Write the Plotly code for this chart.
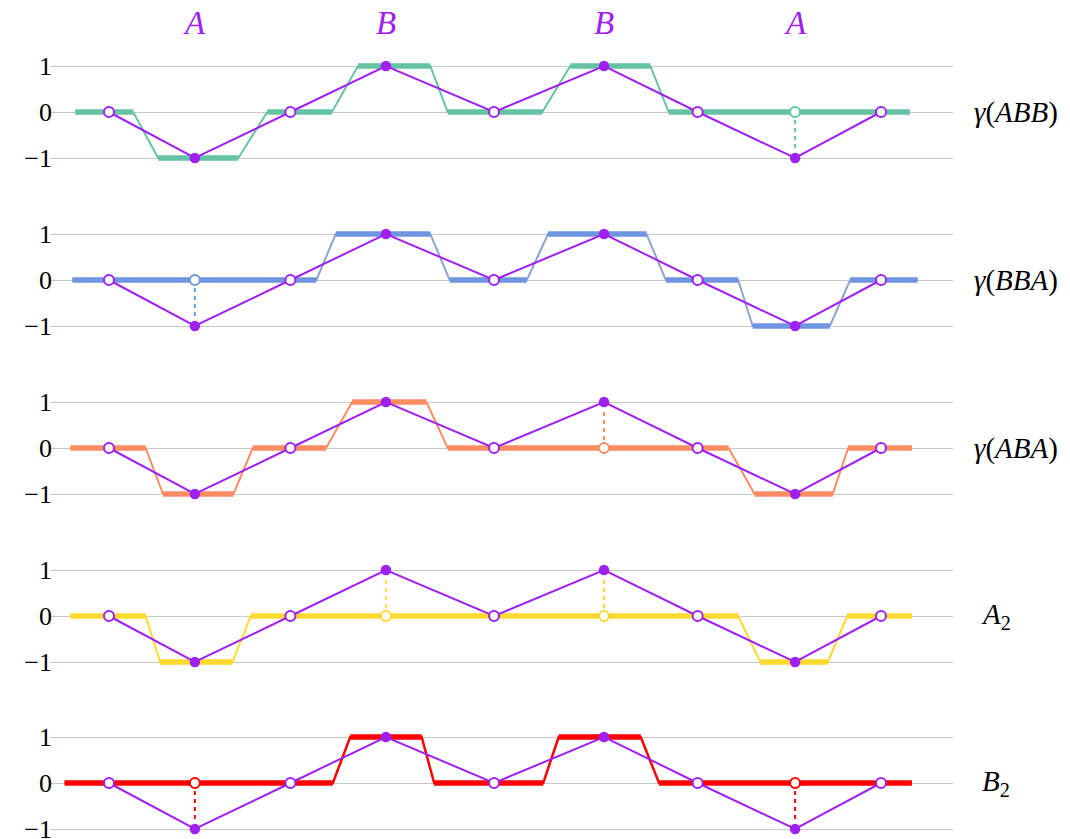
import plotly.graph_objects as go

# ---------------- data ----------------
# purple reference path (positions along the hidden x axis, values -1/0/1)
purple_x = [0.0, 0.89, 1.88, 2.87, 3.99, 5.13, 6.10, 7.11, 8.0]
purple_y = [0, -1, 0, 1, 0, 1, 0, -1, 0]
top_letters = ["A", "B", "B", "A"]
top_letter_idx = [1, 3, 5, 7]

# step curves: corner points
abb_x = [-0.35, 0.25, 0.51, 1.34, 1.64, 2.31, 2.58, 3.33, 3.51, 4.49, 4.78, 5.61, 5.80, 8.30]
abb_y = [0, 0, -1, -1, 0, 0, 1, 1, 0, 0, 1, 1, 0, 0]
abb_gap = [7]

bba_x = [-0.38, 2.15, 2.35, 3.33, 3.53, 4.33, 4.55, 5.57, 5.77, 6.52, 6.67, 7.47, 7.68, 8.38]
bba_y = [0, 0, 1, 1, 0, 0, 1, 1, 0, 0, -1, -1, 0, 0]
bba_gap = [1]

aba_x = [-0.40, 0.38, 0.56, 1.29, 1.49, 2.25, 2.52, 3.29, 3.51, 6.42, 6.69, 7.50, 7.66, 8.32]
aba_y = [0, 0, -1, -1, 0, 0, 1, 1, 0, 0, -1, -1, 0, 0]
aba_gap = [5]

a2_x = [-0.40, 0.38, 0.53, 1.28, 1.47, 6.52, 6.75, 7.45, 7.65, 8.32]
a2_y = [0, 0, -1, -1, 0, 0, -1, -1, 0, 0]
a2_gap = [3, 5]

b2_x = [-0.46, 2.32, 2.50, 3.24, 3.37, 4.50, 4.66, 5.51, 5.70, 8.32]
b2_y = [0, 0, 1, 1, 0, 0, 1, 1, 0, 0]
b2_gap = [1, 7]

row_labels = ["<i>γ</i>(<i>ABB</i>)", "<i>γ</i>(<i>BBA</i>)", "<i>γ</i>(<i>ABA</i>)",
              "<i>A</i><sub>2</sub>", "<i>B</i><sub>2</sub>"]

tick_vals = [-1, 0, 1]
tick_text = ["−1", "0", "1"]

# ---------------- styling ----------------
PURPLE = "#a020f0"
SERIF = "Liberation Serif, Times New Roman, DejaVu Serif, serif"
rows = [
    dict(x=abb_x, y=abb_y, gap=abb_gap, line="#66c2a5", band="#66c2a5", lw=2, label_px=1016),
    dict(x=bba_x, y=bba_y, gap=bba_gap, line="#8fa3cf", band="#6f94e0", lw=2, label_px=1016),
    dict(x=aba_x, y=aba_y, gap=aba_gap, line="#fc8d62", band="#fc8d62", lw=2, label_px=1016),
    dict(x=a2_x, y=a2_y, gap=a2_gap, line="#ffd92f", band="#ffd92f", lw=2, label_px=996),
    dict(x=b2_x, y=b2_y, gap=b2_gap, line="#ff0000", band="#ff0000", lw=2.5, label_px=996),
]

OFF = 8                      # page body margin offset
W, H = 1070 - OFF, 839 - OFF
PL, PR = 50, 953             # plot area left/right in screen px
ML, MR = PL - OFF, 1070 - PR
centers_px = [112, 280, 448, 616, 783]   # screen px of y=0 lines
unit_px = 46
YR = 1.2
XR = [-0.611, 8.746]
plot_w = PR - PL

fig = go.Figure()
layout = dict(
    template="none",
    width=W, height=H,
    margin=dict(l=ML, r=MR, t=0, b=0, pad=0, autoexpand=False),
    plot_bgcolor="white", paper_bgcolor="white",
    showlegend=False,
    font=dict(family=SERIF, size=26, color="black"),
)
annotations = []

for i, r in enumerate(rows):
    n = i + 1
    xa = "x" if n == 1 else f"x{n}"
    ya = "y" if n == 1 else f"y{n}"
    fig.add_trace(go.Scatter(x=r["x"], y=r["y"], mode="lines",
                             line=dict(color=r["line"], width=r["lw"]),
                             xaxis=xa, yaxis=ya, hoverinfo="skip"))
    bx, by = [], []
    for k in range(len(r["x"]) - 1):
        if r["y"][k] == r["y"][k + 1]:
            bx += [r["x"][k], r["x"][k + 1], None]
            by += [r["y"][k], r["y"][k + 1], None]
    fig.add_trace(go.Scatter(x=bx, y=by, mode="lines",
                             line=dict(color=r["band"], width=5.5),
                             xaxis=xa, yaxis=ya, hoverinfo="skip"))
    for g in r["gap"]:
        gx = purple_x[g]
        gy = purple_y[g]
        fig.add_trace(go.Scatter(x=[gx, gx], y=[0, gy * 0.85], mode="lines",
                                 line=dict(color=r["band"], width=2, dash="4px,4px"),
                                 xaxis=xa, yaxis=ya, hoverinfo="skip"))
    fig.add_trace(go.Scatter(x=purple_x, y=purple_y, mode="lines",
                             line=dict(color=PURPLE, width=2),
                             xaxis=xa, yaxis=ya, hoverinfo="skip"))
    fx = [x for x, y in zip(purple_x, purple_y) if y != 0]
    fy = [y for y in purple_y if y != 0]
    fig.add_trace(go.Scatter(x=fx, y=fy, mode="markers",
                             marker=dict(color=PURPLE, size=10.5, line=dict(width=0)),
                             xaxis=xa, yaxis=ya, hoverinfo="skip", cliponaxis=False))
    ox = [x for x, y in zip(purple_x, purple_y) if y == 0]
    oy = [y for y in purple_y if y == 0]
    fig.add_trace(go.Scatter(x=ox, y=oy, mode="markers",
                             marker=dict(color="white", size=10, line=dict(color=PURPLE, width=2)),
                             xaxis=xa, yaxis=ya, hoverinfo="skip", cliponaxis=False))
    fig.add_trace(go.Scatter(x=[purple_x[g] for g in r["gap"]], y=[0] * len(r["gap"]),
                             mode="markers",
                             marker=dict(color="white", size=10, line=dict(color=r["band"], width=2)),
                             xaxis=xa, yaxis=ya, hoverinfo="skip", cliponaxis=False))

    c = centers_px[i] - OFF
    half = YR * unit_px
    dom = [1 - (c + half) / H, 1 - (c - half) / H]
    dom = [max(0.0, dom[0]), min(1.0, dom[1])]
    layout[("xaxis" if n == 1 else f"xaxis{n}")] = dict(
        domain=[0, 1], range=XR, visible=False, anchor=ya, fixedrange=True,
        automargin=False)
    layout[("yaxis" if n == 1 else f"yaxis{n}")] = dict(
        domain=dom, range=[-YR, YR], anchor=xa, tickvals=tick_vals, ticktext=tick_text,
        showgrid=True, gridcolor="#c8c8c8", gridwidth=1, zeroline=False,
        showline=False, ticks="", tickfont=dict(size=26, family=SERIF),
        ticklabelstandoff=-3, ticklabeloverflow="allow",
        automargin=False, fixedrange=True)
    annotations.append(dict(x=(r["label_px"] - PL) / plot_w, xref="paper",
                            y=1 - c / H, yref="paper",
                            text=row_labels[i], showarrow=False, xanchor="center",
                            yanchor="middle", font=dict(size=29, family=SERIF)))

for letter, idx in zip(top_letters, top_letter_idx):
    annotations.append(dict(x=purple_x[idx], xref="x", y=1 - (23 - OFF) / H, yref="paper",
                            text=f"<i>{letter}</i>", showarrow=False,
                            xanchor="center", yanchor="middle",
                            font=dict(size=33, family=SERIF, color=PURPLE)))

layout["annotations"] = annotations
fig.update_layout(**layout)
fig.write_html("out.html")
